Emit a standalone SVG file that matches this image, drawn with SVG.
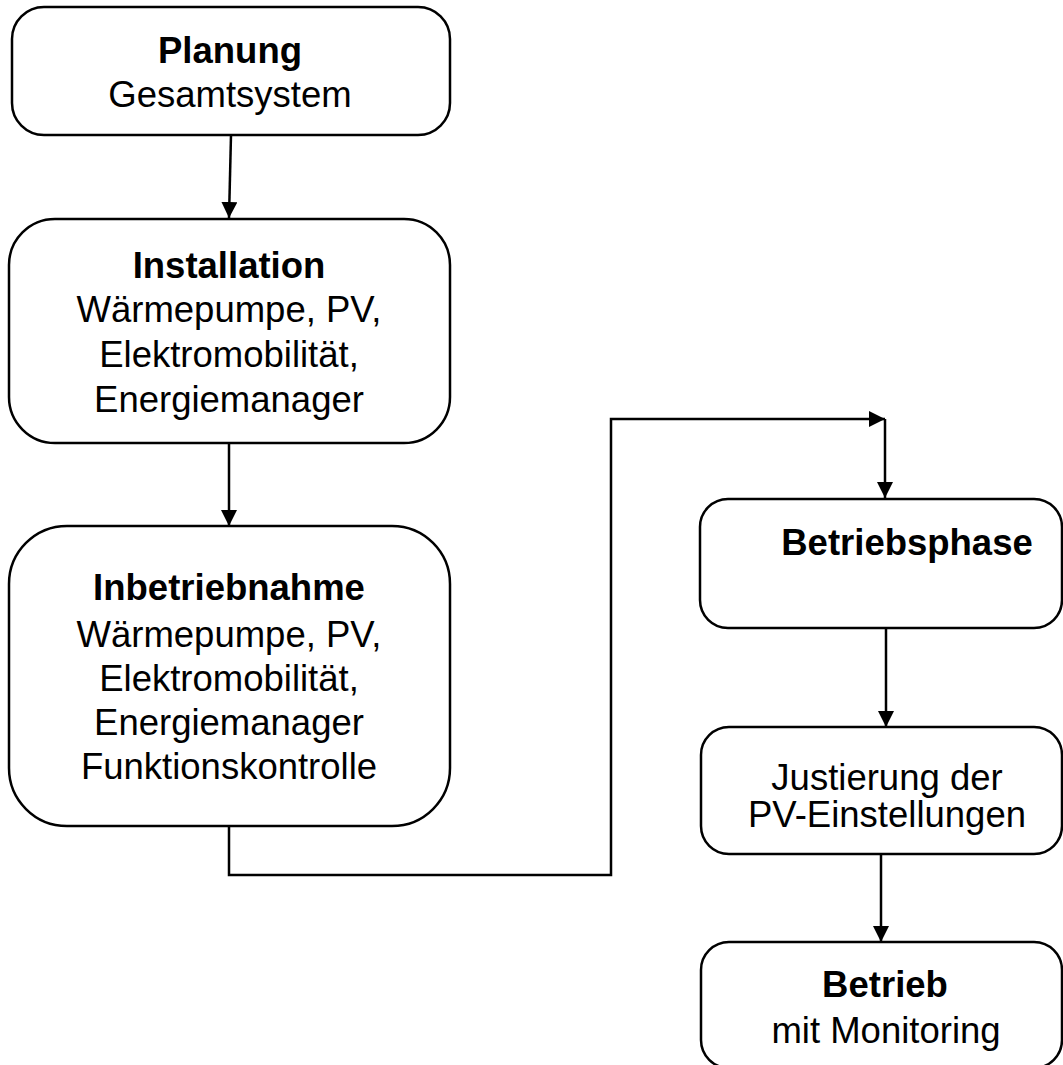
<svg xmlns="http://www.w3.org/2000/svg" width="1063" height="1065" viewBox="0 0 1063 1065">
<defs>
<style>
.box{fill:#fff;stroke:#000;stroke-width:2.5}
.t{font-family:"Liberation Sans",Arial,sans-serif;font-size:36.5px;fill:#000;text-anchor:middle}
.b{font-weight:bold}
.c{fill:none;stroke:#000;stroke-width:2.5}
</style>
<marker id="ah" viewBox="0 0 16 16" refX="16" refY="8" markerWidth="16" markerHeight="16" markerUnits="userSpaceOnUse" orient="auto">
<path d="M0,0 L16,8 L0,16 Z" fill="#000"/>
</marker>
</defs>
<rect width="1063" height="1065" fill="#fff"/>
<g id="connectors">
<path class="c" d="M231,135 L229,218" marker-end="url(#ah)"/>
<path class="c" d="M229,443 L229,526" marker-end="url(#ah)"/>
<path class="c" d="M229,826 L229,875 L611,875 L611,419 L885,419" marker-end="url(#ah)"/>
<path class="c" d="M885,419 L885,498" marker-end="url(#ah)"/>
<path class="c" d="M886,628 L886,727" marker-end="url(#ah)"/>
<path class="c" d="M881,854 L881,942" marker-end="url(#ah)"/>
</g>
<g id="planung">
<rect class="box" x="12" y="7" width="438" height="128" rx="32"/>
<text class="t b" x="230" y="63">Planung</text>
<text class="t" x="230" y="107">Gesamtsystem</text>
</g>
<g id="installation">
<rect class="box" x="9" y="219" width="441" height="224" rx="46"/>
<text class="t b" x="229" y="278">Installation</text>
<text class="t" x="229" y="322">Wärmepumpe, PV,</text>
<text class="t" x="229" y="367">Elektromobilität,</text>
<text class="t" x="229" y="412">Energiemanager</text>
</g>
<g id="inbetriebnahme">
<rect class="box" x="9" y="526" width="441" height="300" rx="58"/>
<text class="t b" x="229" y="600">Inbetriebnahme</text>
<text class="t" x="229" y="647">Wärmepumpe, PV,</text>
<text class="t" x="229" y="691">Elektromobilität,</text>
<text class="t" x="229" y="735">Energiemanager</text>
<text class="t" x="229" y="779">Funktionskontrolle</text>
</g>
<g id="betriebsphase">
<rect class="box" x="700" y="499" width="362" height="129" rx="28"/>
<text class="t b" x="907" y="555">Betriebsphase</text>
</g>
<g id="justierung">
<rect class="box" x="701" y="727" width="361" height="127" rx="28"/>
<text class="t" x="887" y="790">Justierung der</text>
<text class="t" x="887" y="827">PV-Einstellungen</text>
</g>
<g id="betrieb">
<rect class="box" x="701" y="942" width="361" height="126" rx="28"/>
<text class="t b" x="885" y="997">Betrieb</text>
<text class="t" x="886" y="1043">mit Monitoring</text>
</g>
</svg>
